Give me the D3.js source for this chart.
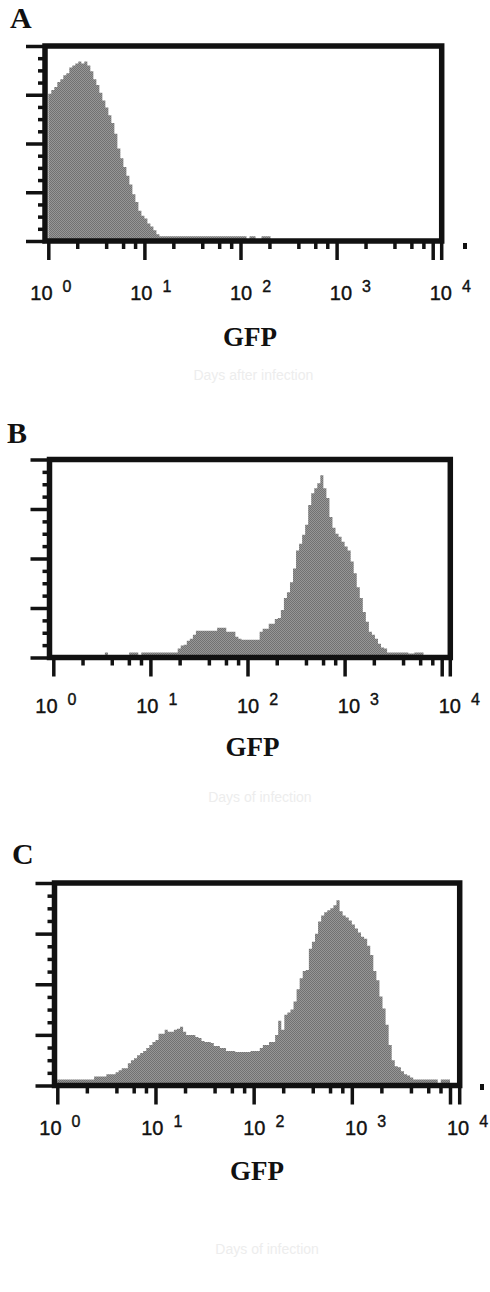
<!DOCTYPE html>
<html>
<head>
<meta charset="utf-8">
<script src="https://cdn.jsdelivr.net/npm/d3@7"></script>
<style>
  body { margin: 0; background: #fff; }
  svg { display: block; }
</style>
</head>
<body>
<svg id="fig" width="490" height="1292"></svg>
<script>
// GFP histograms, 32 channels per decade from 10^0 to 10^4 (counts on a 0-200 scale)
var binsPerDecade = 32;
var decades = [0, 1, 2, 3, 4];
var countTicks = [0, 50, 100, 150, 200];
var countMinor = [12.5, 25, 37.5, 62.5, 75, 87.5, 112.5, 125, 137.5, 162.5, 175, 187.5];
var minorMult = [2, 4, 6, 8];

var gfpA = [151,155,158,163,166,170,172,178,180,182,184,182,184,180,174,166,
            160,152,144,137,129,121,110,95,85,76,67,58,48,40,31,26,
            23,18,15,11,7,5,5,5,5,5,5,5,5,5,5,5,
            5,5,5,5,5,5,5,5,5,5,5,5,5,5,5,5,
            5,5,0,5,5,0,0,5,5,5,0,0,0,0,0,0,
            0,0,0,0,0,0,0,0,0,0,0,0,0,0,0,0,
            0,0,0,0,0,0,0,0,0,0,0,0,0,0,0,0,
            0,0,0,0,0,0,0,0,0,0,0,0,0,0,0,0];

var gfpB = [0,0,0,0,0,0,0,0,0,0,0,0,0,0,0,0,
            0,5,0,0,0,0,0,0,0,5,5,5,0,5,5,5,
            5,5,5,5,5,5,5,5,5,9,12,13,17,19,23,27,
            27,27,27,27,27,27,30,30,30,26,26,26,21,19,18,18,
            18,18,18,18,26,29,29,34,34,39,40,48,60,66,76,90,
            108,115,124,134,154,166,171,176,184,171,161,142,131,125,122,117,
            112,108,97,85,71,60,46,36,26,23,19,14,10,9,5,5,
            5,5,5,5,5,4,4,5,5,5,0,0,0,0,0,0];

var gfpC = [6,6,6,6,6,6,6,6,6,6,6,6,9,9,9,9,
            11,11,11,13,15,17,17,22,25,27,30,32,34,37,40,43,
            45,51,51,55,53,53,55,56,58,53,50,50,50,48,47,44,
            43,43,42,39,39,37,37,34,34,34,33,33,33,33,33,34,
            34,34,37,40,40,43,43,50,64,55,70,72,75,83,95,106,
            113,114,135,142,150,162,168,171,173,175,178,183,172,168,166,163,
            159,155,151,147,145,138,129,113,104,88,76,60,40,25,19,18,
            14,11,10,8,6,6,6,6,6,6,6,6,0,6,6,6];

var panels = [
  {letter: "A", data: gfpA, fx0: 45, fx1: 441.7, fy0: 46, fy1: 241, ax0: 48.3, ax1: 432.7,
   lx: 10, ly: 28, tickBase: 300, gfpX: 250, gfpY: 346, dot: [463, 243], ghost: "Days after infection", ghostY: 380},
  {letter: "B", data: gfpB, fx0: 49.5, fx1: 450.3, fy0: 459.5, fy1: 657.5, ax0: 53.3, ax1: 441.7,
   lx: 7, ly: 443, tickBase: 712.7, gfpX: 252.5, gfpY: 756, dot: null, ghost: "Days of infection", ghostY: 802},
  {letter: "C", data: gfpC, fx0: 54.5, fx1: 459.7, fy0: 883, fy1: 1085.5, ax0: 57.3, ax1: 450,
   lx: 12, ly: 864, tickBase: 1135, gfpX: 257, gfpY: 1180, dot: [480, 1084], ghost: "Days of infection", ghostY: 1254}
];

var svg = d3.select("#fig");

// dithered grey like the printed histogram fill
var pat = svg.append("defs").append("pattern")
    .attr("id", "dither").attr("patternUnits", "userSpaceOnUse")
    .attr("width", 2).attr("height", 2);
pat.append("rect").attr("width", 2).attr("height", 2).attr("fill", "#979797");
pat.append("rect").attr("width", 1).attr("height", 1).attr("fill", "#727272");
pat.append("rect").attr("x", 1).attr("y", 1).attr("width", 1).attr("height", 1).attr("fill", "#727272");

panels.forEach(function(p, k) {
  var g = svg.append("g");

  // faint show-through from the other side of the page
  g.append("text")
      .attr("x", (p.fx0 + p.fx1) / 2 + 10).attr("y", p.ghostY)
      .attr("text-anchor", "middle")
      .style("font-family", "'Liberation Sans', Arial, sans-serif")
      .style("font-size", "14px").style("fill", "#ededed")
      .text(p.ghost);

  var x = d3.scaleLog().domain([1, 1e4]).range([p.ax0, p.ax1]);
  var y = d3.scaleLinear().domain([0, 200]).range([p.fy1, p.fy0]);

  var pts = p.data.map(function(v, i) {
    return {x: Math.pow(10, i / binsPerDecade), v: v};
  });
  pts.push({x: 1e4, v: p.data[p.data.length - 1]});

  var area = d3.area()
      .x(function(d) { return x(d.x); })
      .y0(y(0))
      .y1(function(d) { return y(d.v); })
      .curve(d3.curveStepAfter);

  g.append("path").datum(pts)
      .attr("d", area)
      .attr("fill", "url(#dither)");

  // left axis: counts
  var left = g.append("g").attr("transform", "translate(" + p.fx0 + ",0)");
  left.call(d3.axisLeft(y).tickValues(countTicks).tickSize(19).tickFormat(""));
  left.append("g").call(d3.axisLeft(y).tickValues(countMinor).tickSize(7).tickFormat(""));
  left.selectAll(".domain").remove();
  left.selectAll("line").attr("stroke", "#111").attr("stroke-width", 3.5);

  // bottom axis: log GFP
  var minors = [];
  decades.slice(0, 4).forEach(function(d) {
    minorMult.forEach(function(m) { minors.push(m * Math.pow(10, d)); });
  });
  var bottom = g.append("g").attr("transform", "translate(0," + p.fy1 + ")");
  bottom.call(d3.axisBottom(x).tickValues(decades.map(function(d) { return Math.pow(10, d); }))
      .tickSize(19).tickFormat(""));
  bottom.append("g").call(d3.axisBottom(x).tickValues(minors).tickSize(8).tickFormat(""));
  bottom.selectAll(".domain").remove();
  bottom.selectAll("line").attr("stroke", "#111").attr("stroke-width", 3.5);
  bottom.append("line")
      .attr("x1", p.fx1).attr("x2", p.fx1).attr("y1", 0).attr("y2", 19)
      .attr("stroke", "#111").attr("stroke-width", 3.5);

  // frame
  g.append("rect")
      .attr("x", p.fx0).attr("y", p.fy0)
      .attr("width", p.fx1 - p.fx0).attr("height", p.fy1 - p.fy0)
      .attr("fill", "none").attr("stroke", "#111").attr("stroke-width", 5.5);

  // decade labels 10^n
  var labelX = d3.scaleLinear().domain([0, 4]).range([p.ax0 - 18, p.ax1 - 3]);
  decades.forEach(function(d) {
    var t = g.append("text")
        .attr("x", labelX(d)).attr("y", p.tickBase)
        .style("font-family", "'Liberation Sans', Arial, sans-serif")
        .style("fill", "#111").style("stroke", "#111").style("stroke-width", "0.4px");
    t.append("tspan").style("font-size", "20px").text("10");
    t.append("tspan").attr("dx", 10).attr("dy", -8).style("font-size", "16px").text(d);
  });

  g.append("text")
      .attr("x", p.gfpX).attr("y", p.gfpY)
      .attr("text-anchor", "middle")
      .style("font-family", "'Liberation Serif', 'Times New Roman', serif")
      .style("font-weight", "bold").style("font-size", "27px").style("fill", "#111")
      .text("GFP");

  g.append("text")
      .attr("x", p.lx).attr("y", p.ly)
      .style("font-family", "'Liberation Serif', 'Times New Roman', serif")
      .style("font-weight", "bold").style("font-size", "30px").style("fill", "#111")
      .text(p.letter);

  if (p.dot) {
    g.append("rect").attr("x", p.dot[0]).attr("y", p.dot[1])
        .attr("width", 4).attr("height", 6).attr("fill", "#111");
  }
});
</script>
</body>
</html>
